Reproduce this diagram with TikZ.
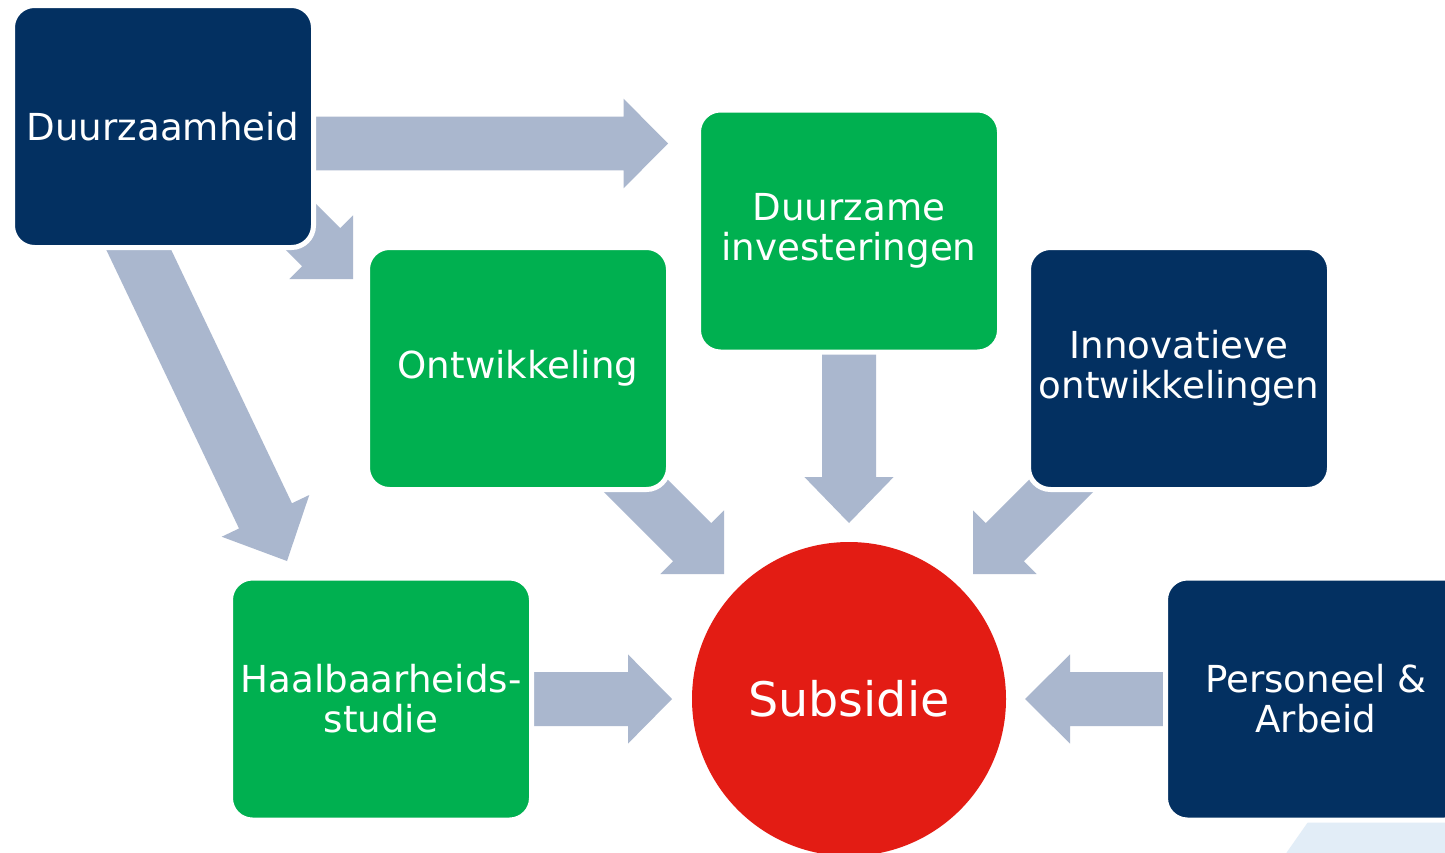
\documentclass[tikz,border=0pt]{standalone}
\usepackage{fontspec}
\setmainfont{DejaVu Sans}
\usetikzlibrary{calc}
\definecolor{navy}{RGB}{3,48,97}
\definecolor{grn}{RGB}{0,176,80}
\definecolor{rd}{RGB}{227,28,20}
\definecolor{arrowcol}{RGB}{170,183,206}
\definecolor{deco}{RGB}{226,237,247}
\tikzset{
  box/.style={rectangle, rounded corners=11pt, draw=white, line width=2.5pt,
    minimum width=150.5pt, minimum height=121pt, text=white, align=center,
    inner sep=0pt, font=\fontsize{18.6}{20}\selectfont},
  navybox/.style={box, fill=navy},
  greenbox/.style={box, fill=grn},
  hub/.style={circle, fill=rd, minimum size=157pt, inner sep=0pt, text=white,
    font=\fontsize{23.8}{26}\selectfont},
  arrowfill/.style={fill=arrowcol},
  decofill/.style={fill=deco}
}
% #1 tail, #2 tip, #3 half shaft, #4 half head, #5 head length
\newcommand\blockarrow[5]{%
  \coordinate (ba-n) at ($(#2)!#5!(#1)$);
  \fill[arrowfill] ($(#1)!#3!90:(#2)$) -- ($(ba-n)!#3!90:(#2)$) -- ($(ba-n)!#4!90:(#2)$)
    -- (#2) -- ($(ba-n)!#4!-90:(#2)$) -- ($(ba-n)!#3!-90:(#2)$) -- ($(#1)!#3!-90:(#2)$) -- cycle;
}
\begin{document}
\begin{tikzpicture}[x=0.5pt,y=-0.5pt]
\useasboundingbox (0,0) rectangle (1445,852);
\clip (0,0) rectangle (1445,852);
\fill[white] (0,0) rectangle (1445,852);
% decoration bottom right
\fill[decofill] (1280,862) -- (1308,822) -- (1460,822) -- (1460,862) -- cycle;
% arrow end points
\coordinate (t1) at (290,143.5);  \coordinate (h1) at (668,143.5);
\coordinate (t2) at (260,186);    \coordinate (h2) at (353,279);
\coordinate (t3) at (115,200);    \coordinate (h3) at (287,561);
\coordinate (t4) at (600,450);    \coordinate (h4) at (724,574);
\coordinate (t5) at (849,330);    \coordinate (h5) at (849,523);
\coordinate (t6) at (1100,447);   \coordinate (h6) at (973,574);
\coordinate (t7) at (500,699);    \coordinate (h7) at (672,699);
\coordinate (t8) at (1200,699);   \coordinate (h8) at (1025,699);
\blockarrow{t1}{h1}{13.4pt}{22.4pt}{22.2pt}
\blockarrow{t2}{h2}{13.5pt}{22.5pt}{22.5pt}
\blockarrow{t3}{h3}{14.65pt}{24.25pt}{25pt}
\blockarrow{t4}{h4}{13.5pt}{22.5pt}{22.5pt}
\blockarrow{t5}{h5}{13.5pt}{22.3pt}{23pt}
\blockarrow{t6}{h6}{13.5pt}{22.5pt}{22.5pt}
\blockarrow{t7}{h7}{13.5pt}{22.3pt}{22pt}
\blockarrow{t8}{h8}{13.5pt}{22.3pt}{22.5pt}
% boxes
\node[navybox]  (dz) at (163,126.5) {\raisebox{-1pt}{Duurzaamheid}};
\node[greenbox] (di) at (849,231)   {Duurzame\\investeringen};
\node[greenbox] (on) at (518,368.5) {\raisebox{-1pt}{Ontwikkeling}};
\node[navybox]  (in) at (1179,368.5){Innovatieve\\ontwikkelingen};
\node[greenbox] (ha) at (381,699)   {Haalbaarheids-\\studie};
\node[navybox]  (pa) at (1316,699)  {Personeel \&\\Arbeid};
\node[hub]      (su) at (849,699)   {Subsidie};
\end{tikzpicture}
\end{document}
